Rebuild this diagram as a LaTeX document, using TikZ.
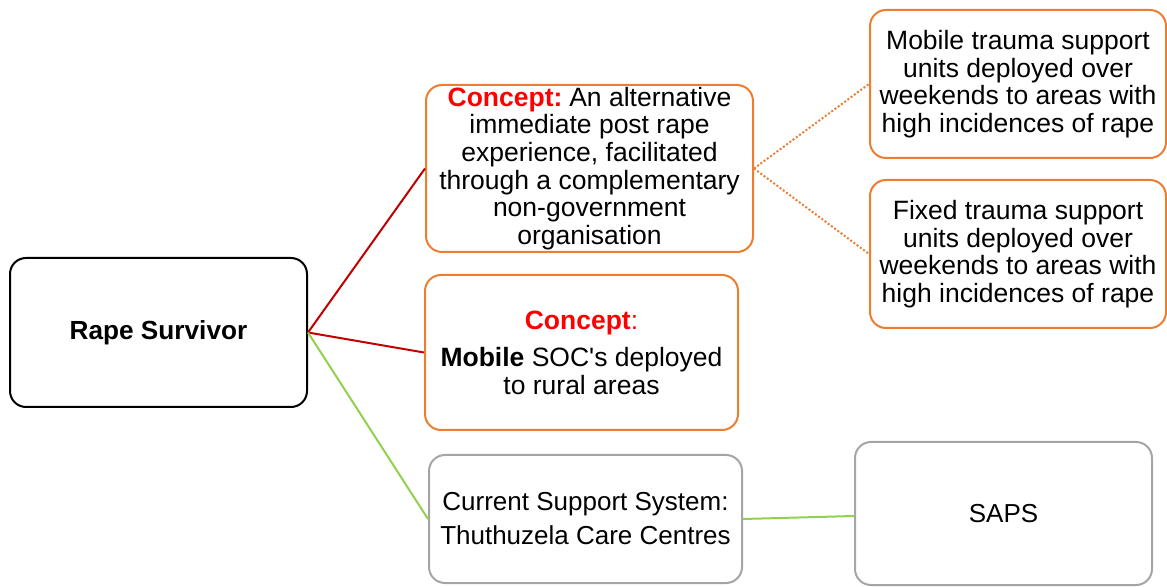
\documentclass[tikz,border=0pt]{standalone}
\usepackage{fontspec}
\newfontfamily\arialf{Liberation Sans}
\usetikzlibrary{calc}
\definecolor{borange}{HTML}{ED7D31}
\definecolor{bgray}{HTML}{A5A5A5}
\definecolor{lred}{HTML}{C00000}
\definecolor{lgreen}{HTML}{92D050}
\definecolor{tred}{HTML}{FF0000}
\begin{document}
\begin{tikzpicture}[x=0.5pt,y=-0.5pt,
  box/.style={draw, line width=1pt, rounded corners=8pt, align=center, inner sep=0pt,
    font=\arialf\fontsize{13.25}{13.8}\selectfont},
  obox/.style={box, draw=borange},
  gbox/.style={box, draw=bgray},
  kbox/.style={box, draw=black},
  redline/.style={draw=lred, line width=1pt},
  greenline/.style={draw=lgreen, line width=1pt},
  dotline/.style={draw=borange, line width=1pt, dash pattern=on 1pt off 1pt}]
\useasboundingbox (0,0) rectangle (1167,587);
\node[kbox, minimum width=148.5pt, minimum height=74.5pt, font=\arialf\fontsize{13.1}{13.6}\selectfont\bfseries] (rs) at (158.5,332.5) {Rape Survivor};
\node[obox, minimum width=163.5pt, minimum height=83.5pt] (c1) at (589.5,168.5)
  {\textcolor{tred}{\textbf{Concept:}}\hspace{-1.5pt} An alternative\\immediate post rape\\experience, facilitated\\through a complementary\\non-government\\organisation};
\node[obox, minimum width=148pt, minimum height=74pt] (mt) at (1018,84)
  {Mobile trauma support\\units deployed over\\weekends to areas with\\high incidences of rape};
\node[obox, minimum width=148pt, minimum height=74pt] (ft) at (1018,254)
  {Fixed trauma support\\units deployed over\\weekends to areas with\\high incidences of rape};
\node[obox, minimum width=156.5pt, minimum height=77.5pt] (ms) at (581.5,352.5)
  {\textcolor{tred}{\textbf{Concept}:}\\[5pt]\textbf{Mobile} SOC's deployed\\to rural areas};
\node[gbox, minimum width=156.5pt, minimum height=64pt, font=\arialf\fontsize{13}{17}\selectfont] (cs) at (585.5,519)
  {Current Support System:\\Thuthuzela Care Centres};
\node[gbox, minimum width=148.5pt, minimum height=71.5pt, font=\arialf\fontsize{13}{17}\selectfont] (sp) at (1003.5,513.5) {SAPS};
\draw[redline] (rs.east) -- (c1.west);
\draw[redline] (rs.east) -- (ms.west);
\draw[greenline] (rs.east) -- (cs.west);
\draw[greenline] (cs.east) -- ($(sp.west)+(0,2.5)$);
\draw[dotline] (c1.east) -- (mt.west);
\draw[dotline] (c1.east) -- (ft.west);
\end{tikzpicture}
\end{document}
